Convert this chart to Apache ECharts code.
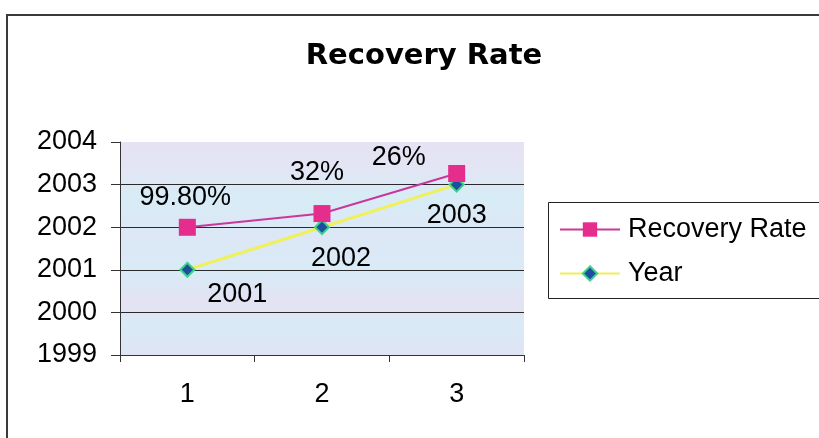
<!DOCTYPE html>
<html>
<head>
<meta charset="utf-8">
<script src="https://cdn.jsdelivr.net/npm/echarts@6/dist/echarts.min.js"></script>
<style>
  html, body { margin: 0; padding: 0; background: #fff; }
  #chart { width: 819px; height: 438px; }
</style>
</head>
<body>
<div id="chart"></div>
<script>
// Categories on the x axis
const categories = ['1', '2', '3'];
// Base series: the year of each record
const years = [2001, 2002, 2003];
// Recovery rate per year (fraction), stacked on top of the year
const recoveryRates = [0.998, 0.32, 0.26];
// Y axis range
const yMin = 1999;
const yMax = 2004;

// Label nudges (pixels) for each point, kept apart from the values
const rateLabelOffsets = [[-2, -30], [-5, -41], [-58, -16]];
const yearLabelOffsets = [[50, 25], [19, 31], [0, 31]];

const FONT = '"Liberation Sans", Arial, sans-serif';

function pctText(v) {
  const p = Math.round(v * 10000) / 100;
  return Number.isInteger(p) ? p + '%' : p.toFixed(2) + '%';
}

const chart = echarts.init(document.getElementById('chart'), null, { renderer: 'canvas' });

const option = {
  animation: false,
  backgroundColor: '#ffffff',
  title: {
    text: 'Recovery Rate',
    left: 419,
    top: 37,
    textAlign: 'center',
    textStyle: {
      fontFamily: '"DejaVu Sans", sans-serif',
      fontWeight: 'bold',
      fontSize: 29,
      color: '#000'
    }
  },
  legend: {
    orient: 'vertical',
    left: 559,
    top: 216,
    padding: 0,
    itemWidth: 60,
    itemHeight: 18,
    itemGap: 17,
    data: ['Recovery Rate', 'Year'],
    textStyle: {
      fontFamily: FONT,
      fontSize: 27,
      color: '#000',
      padding: [0, 0, 0, 3]
    }
  },
  graphic: [
    // Outer chart frame (left and top edges)
    {
      type: 'polyline',
      shape: { points: [[7, 438], [7, 15], [819, 15]] },
      style: { stroke: '#3a3a3a', lineWidth: 2, fill: null },
      silent: true
    },
    // Legend box
    {
      type: 'rect',
      shape: { x: 548.5, y: 202.5, width: 290, height: 96 },
      style: { stroke: '#222', lineWidth: 1, fill: null },
      silent: true,
      z: -1
    }
  ],
  grid: {
    left: 120,
    right: 295,
    top: 142,
    bottom: 83,
    show: true,
    borderWidth: 0,
    backgroundColor: {
      type: 'linear', x: 0, y: 0, x2: 0, y2: 1,
      colorStops: [
        { offset: 0.00, color: '#e6e2f3' },
        { offset: 0.12, color: '#e3e5f4' },
        { offset: 0.25, color: '#d7ecf6' },
        { offset: 0.45, color: '#dde7f5' },
        { offset: 0.60, color: '#d8ebf6' },
        { offset: 0.76, color: '#e4e2f3' },
        { offset: 0.86, color: '#d9eaf6' },
        { offset: 1.00, color: '#e0e4f4' }
      ]
    }
  },
  xAxis: {
    type: 'category',
    data: categories,
    boundaryGap: true,
    axisLine: { show: true, lineStyle: { color: '#333', width: 1 } },
    axisTick: { show: true, length: 7, inside: false, lineStyle: { color: '#333' } },
    axisLabel: {
      margin: 26,
      fontFamily: FONT,
      fontSize: 27,
      color: '#000'
    },
    splitLine: { show: false }
  },
  yAxis: {
    type: 'value',
    min: yMin,
    max: yMax,
    interval: 1,
    axisLine: { show: true, lineStyle: { color: '#333', width: 1 } },
    axisTick: { show: true, length: 9, inside: false, lineStyle: { color: '#333' } },
    axisLabel: {
      margin: 23,
      fontFamily: FONT,
      fontSize: 27,
      color: '#000',
      formatter: v => String(v)
    },
    splitLine: {
      show: true,
      showMaxLine: false,
      lineStyle: { color: '#2a2a2a', width: 1 }
    }
  },
  series: [
    {
      name: 'Year',
      type: 'line',
      stack: 'total',
      data: years.map((v, i) => ({
        value: v,
        label: { offset: yearLabelOffsets[i] }
      })),
      symbol: 'diamond',
      symbolSize: 14,
      lineStyle: { color: '#f0f05a', width: 3 },
      itemStyle: { color: '#1f4ea0', borderColor: '#3fd08c', borderWidth: 2 },
      label: {
        show: true,
        position: 'inside',
        fontFamily: FONT,
        fontSize: 27,
        color: '#000',
        formatter: p => String(p.value)
      },
      z: 2
    },
    {
      name: 'Recovery Rate',
      type: 'line',
      stack: 'total',
      data: recoveryRates.map((v, i) => ({
        value: v,
        label: { offset: rateLabelOffsets[i] }
      })),
      symbol: 'rect',
      symbolSize: 17,
      lineStyle: { color: '#c8389a', width: 2 },
      itemStyle: { color: '#e52d8e' },
      label: {
        show: true,
        position: 'inside',
        fontFamily: FONT,
        fontSize: 27,
        color: '#000',
        formatter: p => pctText(p.value)
      },
      z: 3
    }
  ]
};

chart.setOption(option);
</script>
</body>
</html>
